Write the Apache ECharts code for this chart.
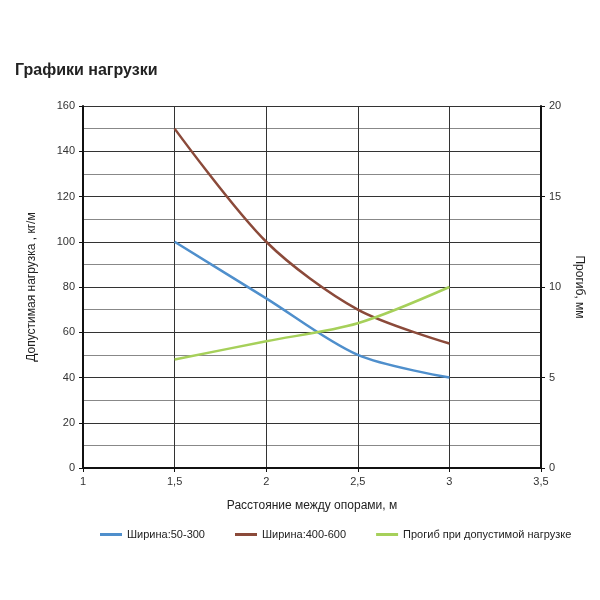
<!DOCTYPE html>
<html><head><meta charset="utf-8">
<script src="https://cdn.jsdelivr.net/npm/echarts@6/dist/echarts.min.js"></script>
<style>body{margin:0;background:#fff}#c{width:600px;height:600px}</style>
</head><body><div id="c"></div>
<script>
var xs = [1.5, 2, 2.5, 3];
var narrow = [100, 75, 50, 40];
var wide = [150, 100, 70, 55];
var sag = [6, 7, 8, 10];
var names = ['Ширина:50-300', 'Ширина:400-600', 'Прогиб при допустимой нагрузке'];

function pts(v) { return xs.map(function (x, i) { return [x, v[i]]; }); }
var font = 'Liberation Sans';
var chart = echarts.init(document.getElementById('c'));
chart.setOption({
  textStyle: { fontFamily: font },
  title: { text: 'Графики нагрузки', left: 10, top: 58,
    textStyle: { fontSize: 16, fontWeight: 'bold', color: '#222', fontFamily: font } },
  grid: { left: 83, right: 59, top: 106, bottom: 132 },
  legend: { bottom: 55, left: 95, itemGap: 30, itemWidth: 22, itemHeight: 3,
    icon: 'rect', textStyle: { fontSize: 11, color: '#222' }, data: names },
  xAxis: { type: 'value', min: 1, max: 3.5, interval: 0.5,
    name: 'Расстояние между опорами, м', nameLocation: 'middle', nameGap: 32,
    nameTextStyle: { fontSize: 12, color: '#222' },
    axisLine: { lineStyle: { color: '#111', width: 2 } },
    axisTick: { show: true, inside: false, length: 4, lineStyle: { color: '#111' } },
    axisLabel: { color: '#333', fontSize: 11, formatter: function (v) { return String(v).replace('.', ','); } },
    splitLine: { lineStyle: { color: '#333', width: 1 } } },
  yAxis: [
    { type: 'value', min: 0, max: 160, interval: 20,
      name: 'Допустимая нагрузка , кг/м', nameLocation: 'middle', nameGap: 45,
      nameTextStyle: { fontSize: 12, color: '#222' },
      axisLine: { show: true, lineStyle: { color: '#111', width: 2 } },
      axisTick: { show: true, length: 4, lineStyle: { color: '#111' } },
      axisLabel: { color: '#333', fontSize: 11 },
      splitLine: { lineStyle: { color: '#333', width: 1 } },
      minorTick: { show: false, splitNumber: 2 },
      minorSplitLine: { show: true, lineStyle: { color: '#888', width: 1 } } },
    { type: 'value', min: 0, max: 20, interval: 5,
      name: 'Прогиб, мм', nameLocation: 'middle', nameGap: 32, nameRotate: -90,
      nameTextStyle: { fontSize: 12, color: '#222' },
      axisLine: { show: true, lineStyle: { color: '#111', width: 2 } },
      axisTick: { show: true, length: 4, lineStyle: { color: '#111' } },
      axisLabel: { color: '#333', fontSize: 11 },
      splitLine: { show: false } }
  ],
  series: [
    { name: names[0], type: 'line', smooth: 0.3, symbol: 'none', data: pts(narrow),
      color: '#4f8fcc', lineStyle: { width: 2.5 } },
    { name: names[1], type: 'line', smooth: 0.3, symbol: 'none', data: pts(wide),
      color: '#8b4a3a', lineStyle: { width: 2.5 } },
    { name: names[2], type: 'line', smooth: 0.3, symbol: 'none', yAxisIndex: 1, data: pts(sag),
      color: '#a6d05a', lineStyle: { width: 2.5 } }
  ]
});
</script></body></html>
